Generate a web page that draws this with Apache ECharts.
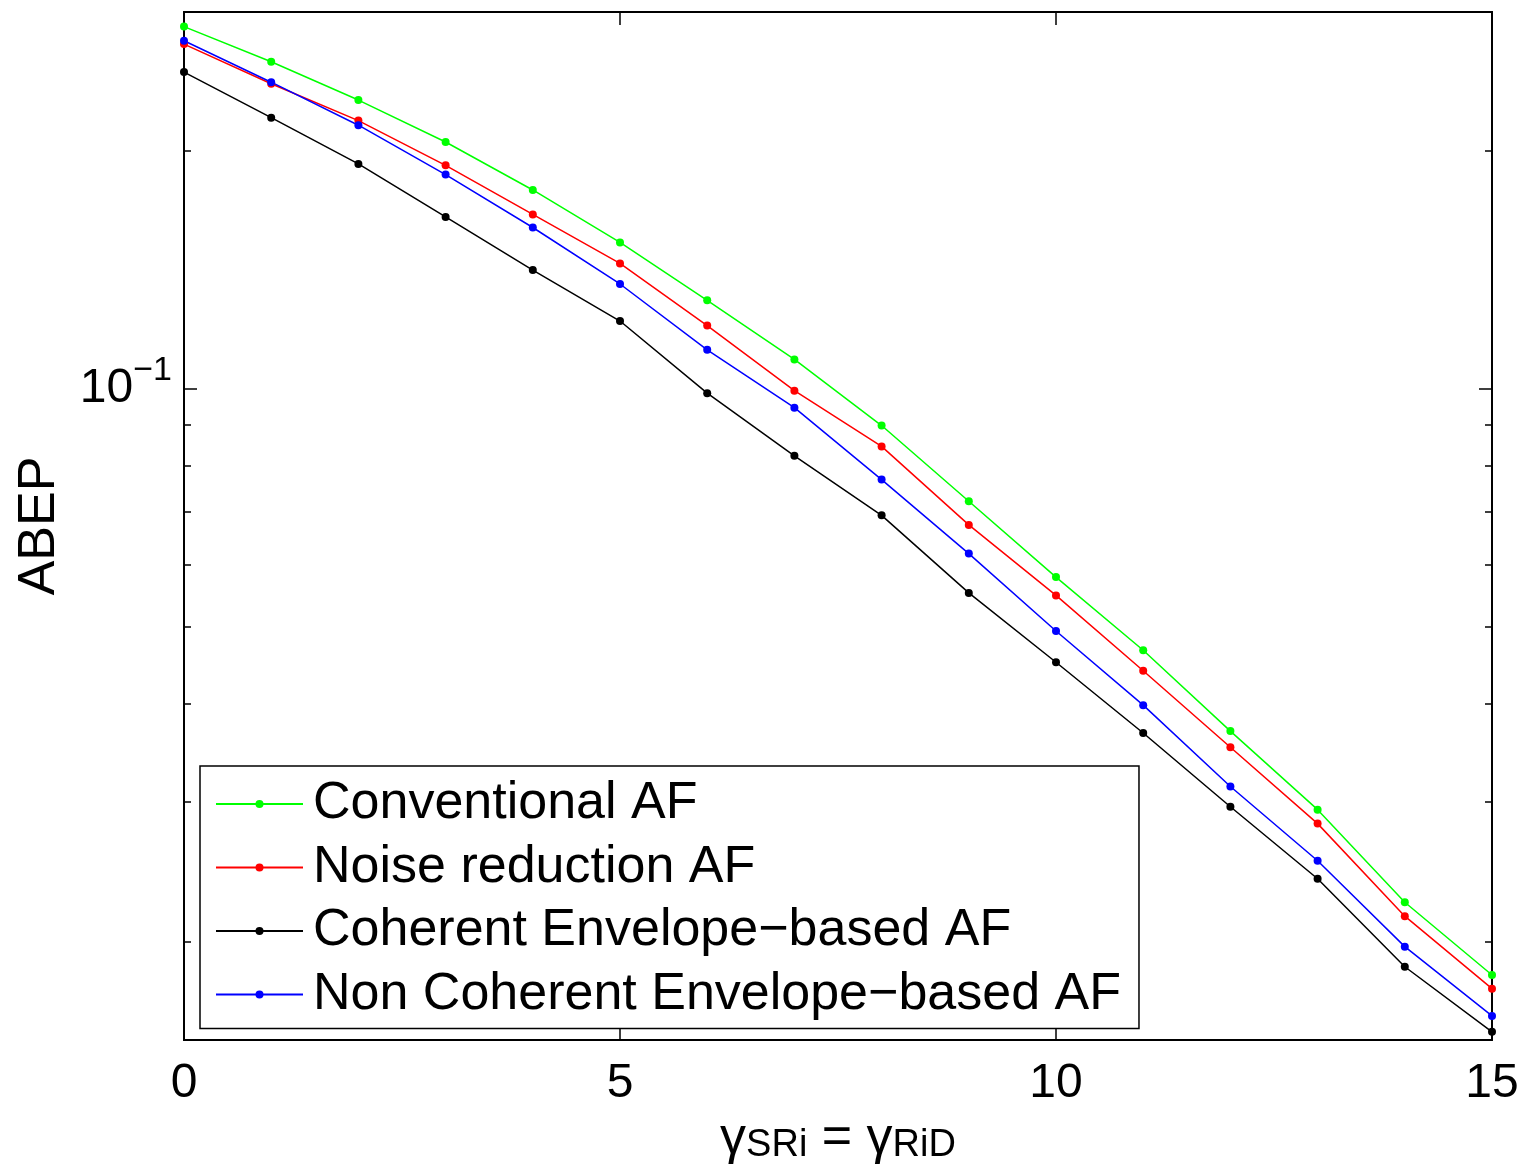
<!DOCTYPE html>
<html>
<head>
<meta charset="utf-8">
<script src="https://cdn.jsdelivr.net/npm/echarts@6/dist/echarts.min.js"></script>
<style>
  html, body { margin: 0; padding: 0; background: #fff; }
  #chart { width: 1524px; height: 1166px; }
</style>
</head>
<body>
<div id="chart"></div>
<script>
// x values (gamma_SRi = gamma_RiD)
var snr = [0, 1, 2, 3, 4, 5, 6, 7, 8, 9, 10, 11, 12, 13, 14, 15];

// ABEP
var conventionalAF = [0.2875, 0.2595, 0.2321, 0.2054, 0.1786, 0.1533, 0.1295, 0.1090, 0.0899, 0.0721, 0.0578, 0.0467, 0.0369, 0.02935, 0.02241, 0.01813];
var noiseReductionAF = [0.2732, 0.2434, 0.2186, 0.1919, 0.1663, 0.1442, 0.1203, 0.0995, 0.0846, 0.0673, 0.0548, 0.0440, 0.0352, 0.02818, 0.02152, 0.01742];
var coherentAF = [0.2518, 0.2205, 0.1927, 0.1651, 0.1414, 0.1219, 0.0988, 0.0823, 0.0692, 0.0552, 0.0451, 0.0367, 0.0296, 0.0240, 0.01857, 0.01536];
var nonCoherentAF = [0.2759, 0.2445, 0.2157, 0.1868, 0.1601, 0.1358, 0.1121, 0.0947, 0.0768, 0.0619, 0.0494, 0.0398, 0.0314, 0.02529, 0.01969, 0.01609];

var seriesNames = ['Conventional AF', 'Noise reduction AF', 'Coherent Envelope\u2212based AF', 'Non Coherent Envelope\u2212based AF'];

// log axis limits and ticks
var yMin = 0.015, yMax = 0.3;
var majorTicks = [0.1];
var minorTicks = [0.02, 0.03, 0.04, 0.05, 0.06, 0.07, 0.08, 0.09, 0.2, 0.3];

var font = "'Liberation Sans', Arial, Helvetica, sans-serif";
var lg = function (v) { return Math.log10(v); };

let chart = echarts.init(document.getElementById('chart'), null, {renderer: 'canvas'});

function makeSeries(name, values, color) {
  return {
    name: name,
    type: 'line',
    data: values.map(function (v, i) { return [snr[i], lg(v)]; }),
    symbol: 'circle',
    symbolSize: 8,
    showAllSymbol: true,
    lineStyle: {color: color, width: 1.5},
    itemStyle: {color: color},
    emphasis: {disabled: true}
  };
}

function yAxisDef(pos, ticks, len, withLabel) {
  return {
    type: 'value',
    position: pos,
    min: lg(yMin),
    max: lg(yMax),
    axisLine: {show: true, onZero: false, lineStyle: {color: '#000', width: 2}},
    axisTick: {show: true, inside: true, length: len, customValues: ticks.map(lg), lineStyle: {color: '#000', width: 1.5}},
    axisLabel: withLabel ? {
      show: true,
      margin: 12,
      customValues: majorTicks.map(lg),
      formatter: function () { return '{b|10}{e|\u22121}'; },
      rich: {
        b: {fontSize: 48, fontFamily: font, color: '#000', lineHeight: 70, verticalAlign: 'middle'},
        e: {fontSize: 34, fontFamily: font, color: '#000', lineHeight: 24, verticalAlign: 'top'}
      }
    } : {show: false},
    splitLine: {show: false},
    name: withLabel ? 'ABEP' : '',
    nameLocation: 'middle',
    nameRotate: 90,
    nameGap: 118,
    nameTextStyle: {fontSize: 52, fontFamily: font, color: '#000'}
  };
}

function xAxisDef(pos, withLabel) {
  return {
    type: 'value',
    position: pos,
    min: 0,
    max: 15,
    interval: 5,
    axisLine: {show: true, onZero: false, lineStyle: {color: '#000', width: 2}},
    axisTick: {show: true, inside: true, length: 13, lineStyle: {color: '#000', width: 1.5}},
    axisLabel: withLabel ? {show: true, margin: 20, fontSize: 48, fontFamily: font, color: '#000'} : {show: false},
    splitLine: {show: false},
    name: withLabel ? '{g|\u03b3}{s|SRi}{g| = \u03b3}{s|RiD}' : '',
    nameLocation: 'middle',
    nameGap: 58,
    nameTextStyle: {
      rich: {
        g: {fontSize: 52, fontFamily: font, color: '#000', lineHeight: 52, verticalAlign: 'top', padding: [0, 0, 14, 0]},
        s: {fontSize: 38, fontFamily: font, color: '#000', lineHeight: 38, verticalAlign: 'bottom'}
      }
    }
  };
}

let options = {
  animation: false,
  backgroundColor: '#fff',
  grid: {left: 184, right: 32, top: 12, bottom: 126, containLabel: false, outerBoundsMode: 'none', show: false},
  xAxis: [xAxisDef('bottom', true), xAxisDef('top', false)],
  yAxis: [
    yAxisDef('left', majorTicks, 13, true),
    yAxisDef('left', minorTicks, 7, false),
    yAxisDef('right', majorTicks, 13, false),
    yAxisDef('right', minorTicks, 7, false)
  ],
  legend: {
    orient: 'vertical',
    left: 200,
    top: 766,
    padding: [12, 18, 8, 15],
    itemGap: 11.5,
    itemWidth: 87,
    itemHeight: 10,
    backgroundColor: '#fff',
    borderColor: '#000',
    borderWidth: 1.5,
    borderRadius: 0,
    textStyle: {fontSize: 52, fontFamily: font, color: '#000', lineHeight: 52, padding: [0, 0, 0, 5]},
    data: seriesNames
  },
  series: [
    makeSeries(seriesNames[0], conventionalAF, '#00ff00'),
    makeSeries(seriesNames[1], noiseReductionAF, '#ff0000'),
    makeSeries(seriesNames[2], coherentAF, '#000000'),
    makeSeries(seriesNames[3], nonCoherentAF, '#0000ff')
  ]
};
chart.setOption(options);
</script>
</body>
</html>
